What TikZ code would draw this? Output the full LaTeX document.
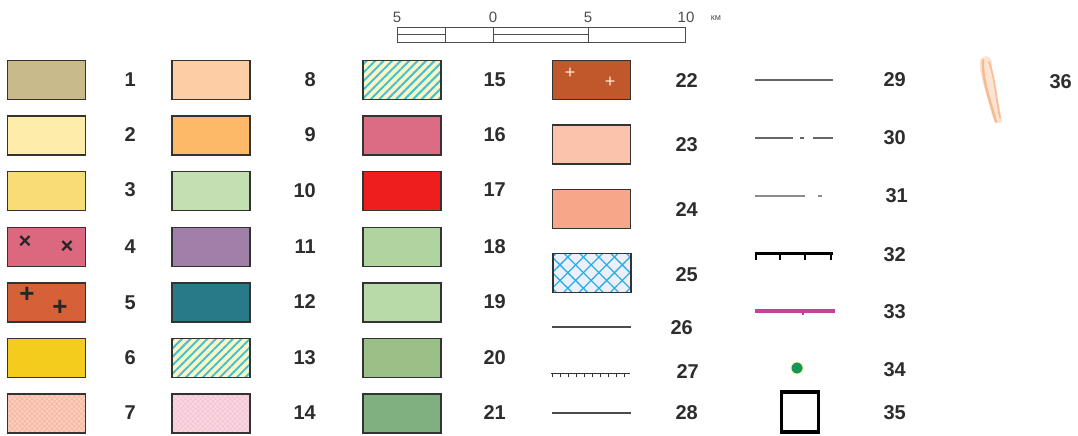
\documentclass[tikz,border=0pt]{standalone}
\usepackage{fontspec}
\setmainfont{Liberation Sans}
\usetikzlibrary{patterns.meta}
\definecolor{unitkhaki}{RGB}{201,186,140}
\definecolor{unitcream}{RGB}{253,236,170}
\definecolor{unityellow}{RGB}{248,220,118}
\definecolor{unitpink}{RGB}{220,104,128}
\definecolor{unitrust}{RGB}{214,96,56}
\definecolor{unitgold}{RGB}{244,204,30}
\definecolor{unitsalmon}{RGB}{252,206,190}
\definecolor{hatchsalmon}{RGB}{246,182,162}
\definecolor{unitpeach}{RGB}{253,206,166}
\definecolor{unitorange}{RGB}{253,184,104}
\definecolor{unitmint}{RGB}{196,224,178}
\definecolor{unitviolet}{RGB}{160,128,168}
\definecolor{unitteal}{RGB}{40,122,136}
\definecolor{stripepale}{RGB}{250,246,200}
\definecolor{stripecyan}{RGB}{70,192,204}
\definecolor{unitrose}{RGB}{250,216,226}
\definecolor{hatchrose}{RGB}{244,196,212}
\definecolor{unitcrimson}{RGB}{220,108,132}
\definecolor{unitred}{RGB}{238,30,30}
\definecolor{unitsage}{RGB}{176,212,160}
\definecolor{unitlsage}{RGB}{184,218,168}
\definecolor{unitmoss}{RGB}{154,192,136}
\definecolor{unitfern}{RGB}{128,176,128}
\definecolor{unitbrick}{RGB}{192,88,44}
\definecolor{unitblush}{RGB}{251,194,172}
\definecolor{unitcoral}{RGB}{248,166,138}
\definecolor{netblue}{RGB}{40,176,232}
\definecolor{netback}{RGB}{236,238,248}
\definecolor{faultmagenta}{RGB}{200,64,154}
\definecolor{wellgreen}{RGB}{20,150,90}
\definecolor{veinorange}{RGB}{245,176,128}
\definecolor{textgrey}{RGB}{45,45,45}

\begin{document}
\begin{tikzpicture}[
  x=1pt, y=-1pt,
  legbox/.style={draw=black!80, line width=1.6pt, minimum width=78pt,
                 minimum height=39pt, inner sep=0pt},
  stripes/.style={preaction={fill=stripepale},
                  preaction={pattern={Lines[angle=45,distance=6pt,line width=2pt]}, pattern color=stripecyan}},
  finehatch/.style={preaction={pattern={Lines[angle=45,distance=3.5pt,line width=0.7pt]}, pattern color=#1},
                    preaction={pattern={Lines[angle=-45,distance=3.5pt,line width=0.7pt]}, pattern color=#1}},
  num/.style={font=\fontsize{20}{20}\selectfont\bfseries, text=textgrey, anchor=east, inner sep=0pt},
  scl/.style={font=\fontsize{15}{16}\selectfont, text=black!70, inner sep=0pt},
  glyph/.style={font=\fontsize{22}{22}\selectfont\bfseries, inner sep=0pt, text=black!85},
  sample/.style={line width=1.1pt, color=black!70}
]
  \useasboundingbox (0,0) rectangle (1078,436);

  % scale bar
  \draw[black!70, line width=0.9pt] (397,27) rectangle (685,42);
  \draw[black!70, line width=0.9pt] (445,27) -- (445,42) (493,27) -- (493,42) (588,27) -- (588,42);
  \draw[black!70, line width=0.9pt] (397,34.5) -- (445,34.5) (493,34.5) -- (588,34.5);
  \node[scl] (s5l) at (397,17) {5};
  \node[scl] (s0)  at (493,17) {0};
  \node[scl] (s5r) at (588,17) {5};
  \node[scl] (s10) at (686,17) {10};
  \node[scl, font=\fontsize{9}{10}\selectfont] (skm) at (716,18) {км};

  % column 1
  \node[legbox, fill=unitkhaki]  (b1) at (46.5,80)    {};
  \node[legbox, fill=unitcream]  (b2) at (46.5,135.5) {};
  \node[legbox, fill=unityellow] (b3) at (46.5,191)   {};
  \node[legbox, fill=unitpink]   (b4) at (46.5,247)   {};
  \node[legbox, fill=unitrust]   (b5) at (46.5,302.5) {};
  \node[legbox, fill=unitgold]   (b6) at (46.5,358)   {};
  \node[legbox, preaction={fill=unitsalmon}, finehatch=hatchsalmon] (b7) at (46.5,413.5) {};
  \node[glyph] (x4a) at (25,242) {×};
  \node[glyph] (x4b) at (67,247) {×};
  \node[glyph, font=\fontsize{26}{26}\selectfont\bfseries] (p5a) at (27,295) {+};
  \node[glyph, font=\fontsize{26}{26}\selectfont\bfseries] (p5b) at (60,308) {+};
  \node[num] (n1) at (136,80)  {1};
  \node[num] (n2) at (136,135) {2};
  \node[num] (n3) at (136,190) {3};
  \node[num] (n4) at (136,247) {4};
  \node[num] (n5) at (136,303) {5};
  \node[num] (n6) at (136,358) {6};
  \node[num] (n7) at (136,413) {7};

  % column 2
  \node[legbox, fill=unitpeach]  (b8)  at (211,80)    {};
  \node[legbox, fill=unitorange] (b9)  at (211,135.5) {};
  \node[legbox, fill=unitmint]   (b10) at (211,191)   {};
  \node[legbox, fill=unitviolet] (b11) at (211,247)   {};
  \node[legbox, fill=unitteal]   (b12) at (211,302.5) {};
  \node[legbox, stripes]         (b13) at (211,358)   {};
  \node[legbox, preaction={fill=unitrose}, finehatch=hatchrose] (b14) at (211,413.5) {};
  \node[num] (n8)  at (316,80)  {8};
  \node[num] (n9)  at (316,135) {9};
  \node[num] (n10) at (316,191) {10};
  \node[num] (n11) at (316,247) {11};
  \node[num] (n12) at (316,302) {12};
  \node[num] (n13) at (316,358) {13};
  \node[num] (n14) at (316,413) {14};

  % column 3
  \node[legbox, stripes]          (b15) at (402,80)    {};
  \node[legbox, fill=unitcrimson] (b16) at (402,135.5) {};
  \node[legbox, fill=unitred]     (b17) at (402,191)   {};
  \node[legbox, fill=unitsage]    (b18) at (402,247)   {};
  \node[legbox, fill=unitlsage]   (b19) at (402,302.5) {};
  \node[legbox, fill=unitmoss]    (b20) at (402,358)   {};
  \node[legbox, fill=unitfern]    (b21) at (402,413.5) {};
  \node[num] (n15) at (506,80)  {15};
  \node[num] (n16) at (506,135) {16};
  \node[num] (n17) at (506,190) {17};
  \node[num] (n18) at (506,247) {18};
  \node[num] (n19) at (506,302) {19};
  \node[num] (n20) at (506,358) {20};
  \node[num] (n21) at (506,413) {21};

  % column 4
  \node[legbox, fill=unitbrick] (b22) at (591.5,80)    {};
  \node[legbox, fill=unitblush] (b23) at (591.5,144.5) {};
  \node[legbox, fill=unitcoral] (b24) at (591.5,209)   {};
  \node[legbox, preaction={fill=netback},
        preaction={pattern={Lines[angle=45,distance=11pt,line width=1.3pt]}, pattern color=netblue},
        preaction={pattern={Lines[angle=-45,distance=11pt,line width=1.3pt]}, pattern color=netblue}]
        (b25) at (592,273) {};
  \node[glyph, font=\fontsize{18}{18}\selectfont, text=white!85!orange] (w22a) at (570,73) {+};
  \node[glyph, font=\fontsize{18}{18}\selectfont, text=white!85!orange] (w22b) at (610,82) {+};
  \draw[sample] (552,327) -- (631,327);
  \draw[sample, line width=0.9pt, color=black!80] (551,373) -- (630,373);
  \draw[sample, color=black!80, line width=3pt, dash pattern=on 1pt off 7pt] (552,375) -- (630,375);
  \draw[sample, line width=2pt] (552,413) -- (631,413);
  \node[num] (n22) at (698,81)  {22};
  \node[num] (n23) at (698,145) {23};
  \node[num] (n24) at (698,210) {24};
  \node[num] (n25) at (698,275) {25};
  \node[num] (n26) at (693,328) {26};
  \node[num] (n27) at (699,372) {27};
  \node[num] (n28) at (698,413) {28};

  % column 5
  \draw[sample, color=black!60] (755,80) -- (833,80);
  \draw[sample, color=black!60] (755,138) -- (793,138) (800,138) -- (804,138) (813,138) -- (833,138);
  \draw[sample, color=black!45] (755,196) -- (805,196) (818,196) -- (822,196);
  \draw[black, line width=3pt] (755,253) -- (833,253);
  \draw[black, line width=2pt] (756,253) -- ++(0,7) (780,253) -- ++(0,7) (805,253) -- ++(0,7) (831,253) -- ++(0,7);
  \draw[faultmagenta, line width=3.5pt] (755,311) -- (835,311);
  \draw[faultmagenta, line width=1.5pt] (803,311) -- ++(0,4);
  \node[circle, fill=wellgreen, draw=yellow!40, line width=0.8pt, minimum size=12pt, inner sep=0pt] (w34) at (797,368) {};
  \node[draw=black, line width=3.5pt, minimum width=37pt, minimum height=40pt, inner sep=0pt] (q35) at (800,412) {};
  \node[num] (n29) at (906,80)  {29};
  \node[num] (n30) at (906,138) {30};
  \node[num] (n31) at (908,196) {31};
  \node[num] (n32) at (906,255) {32};
  \node[num] (n33) at (906,312) {33};
  \node[num] (n34) at (906,370) {34};
  \node[num] (n35) at (906,413) {35};

  % column 6
  \fill[veinorange, opacity=0.35]
    (980,60) .. controls (986,52) and (994,58) .. (992,68)
    .. controls (994,88) and (1000,105) .. (1002,122)
    .. controls (996,126) and (992,118) .. (990,108)
    .. controls (986,92) and (978,72) .. cycle;
  \draw[veinorange, line width=2.4pt, line cap=round, opacity=0.8]
    (983,60) .. controls (982,80) and (990,100) .. (996,122);
  \draw[veinorange, line width=1.8pt, line cap=round, opacity=0.75]
    (989,62) .. controls (995,78) and (996,98) .. (1000,118);
  \node[num] (n36) at (1072,82) {36};
\end{tikzpicture}
\end{document}
